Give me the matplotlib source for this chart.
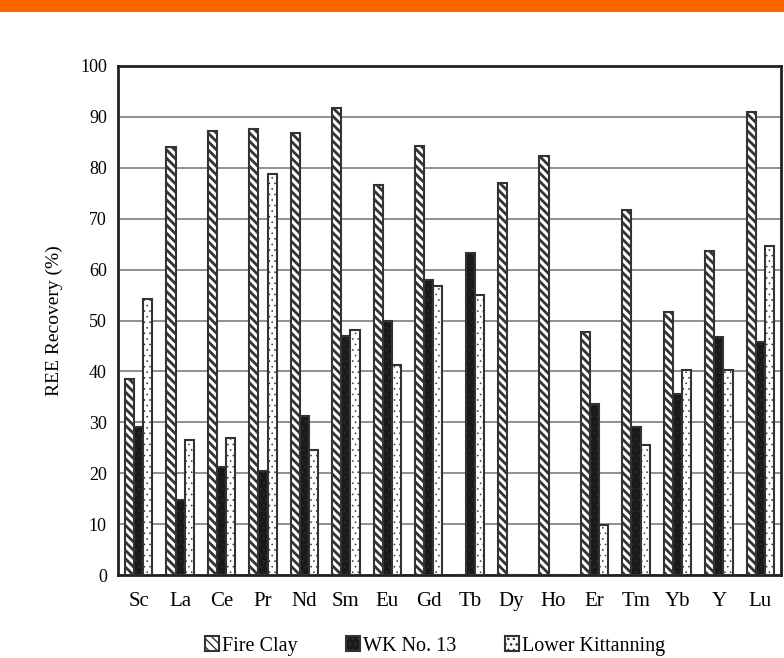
import matplotlib
matplotlib.use("Agg")
import matplotlib.pyplot as plt
import numpy as np
from matplotlib.patches import Rectangle

elements = ["Sc", "La", "Ce", "Pr", "Nd", "Sm", "Eu", "Gd", "Tb", "Dy", "Ho", "Er", "Tm", "Yb", "Y", "Lu"]
fire_clay = [38.5, 84.0, 87.2, 87.7, 86.8, 91.7, 76.6, 84.2, 0.0, 77.0, 82.4, 47.8, 71.8, 51.6, 63.6, 91.0]
wk_no13 = [29.0, 14.8, 21.3, 20.5, 31.2, 47.0, 50.0, 58.0, 63.3, 0.0, 0.0, 33.6, 29.0, 35.5, 46.7, 45.7]
lower_kitt = [54.3, 26.5, 27.0, 78.7, 24.6, 48.2, 41.2, 56.8, 55.0, 0.0, 0.0, 9.8, 25.6, 40.3, 40.3, 64.6]
series_names = ["Fire Clay", "WK No. 13", "Lower Kittanning"]
yticks = [0, 10, 20, 30, 40, 50, 60, 70, 80, 90, 100]

plt.rcParams['font.family'] = ['Liberation Serif', 'DejaVu Serif']

fig = plt.figure(figsize=(7.84, 6.58), dpi=100)
ax = fig.add_axes([118/784, 1-575/658, (781-118)/784, (575-66)/658])

# orange header band
fig.patches.append(Rectangle((0, 1-12/658), 1, 12/658, transform=fig.transFigure,
                             facecolor='#ff6600', edgecolor='none', zorder=0))

x = np.arange(len(elements))
w = 0.22
edge = '#333333'
with plt.rc_context({'hatch.linewidth': 2.0, 'hatch.color': '#1a1a1a'}):
    b1 = ax.bar(x - w, fire_clay, w, facecolor='white', edgecolor=edge, hatch='\\\\\\\\',
                linewidth=1.5, zorder=3)
with plt.rc_context({'hatch.linewidth': 0.4, 'hatch.color': '#888888'}):
    b2 = ax.bar(x, wk_no13, w, facecolor='#1a1a1a', edgecolor=edge, hatch='...',
                linewidth=1.5, zorder=3)
with plt.rc_context({'hatch.linewidth': 0.4, 'hatch.color': '#aaaaaa'}):
    b3 = ax.bar(x + w, lower_kitt, w, facecolor='white', edgecolor=edge, hatch='...',
                linewidth=1.5, zorder=3)

ax.set_xlim(-0.5, len(elements) - 0.5)
ax.set_ylim(0, 100)
ax.set_yticks(yticks)
ax.set_xticks(x)
ax.set_xticklabels(elements, fontsize=15)
ax.tick_params(axis='y', labelsize=13, length=0, pad=8)
ax.tick_params(axis='x', length=0, pad=12)
ax.yaxis.grid(True, color='#888888', linewidth=1.3, zorder=0)
ax.set_axisbelow(True)
for s in ax.spines.values():
    s.set_linewidth(2)
    s.set_color('#222222')
ax.set_ylabel("REE Recovery (%)", fontsize=14, labelpad=12)

leg = fig.legend([b1[0], b2[0], b3[0]], series_names, loc='center', ncol=3,
                 bbox_to_anchor=(0.555, 1-646/658), frameon=False, fontsize=14.5,
                 handlelength=0.7, handleheight=0.7, handletextpad=0.15, columnspacing=2.4)

fig.savefig("out.png", dpi=100)
